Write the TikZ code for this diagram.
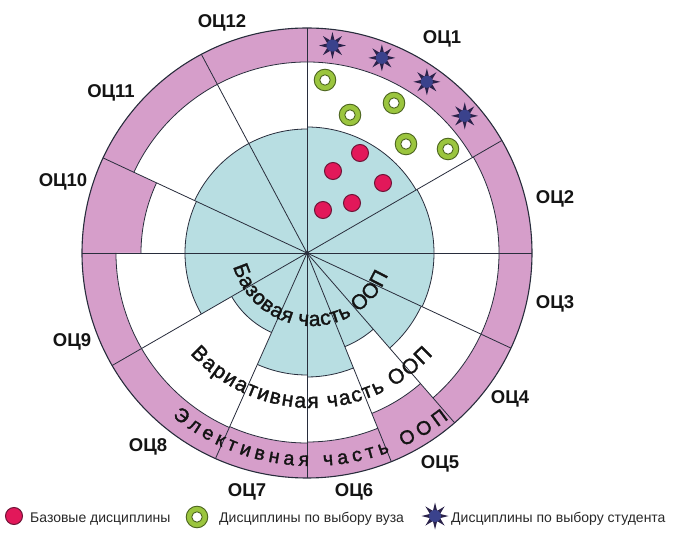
\documentclass[tikz,border=0pt]{standalone}
\usepackage{fontspec}
\setmainfont{Liberation Sans}
\newfontfamily\arcfont[FakeBold=1.6]{Liberation Sans}
\usetikzlibrary{decorations.text}
\definecolor{cPink}{RGB}{214,158,202}
\definecolor{cBlue}{RGB}{184,222,226}
\definecolor{cLine}{RGB}{40,45,60}
\definecolor{cRed}{RGB}{226,24,90}
\definecolor{cRedEdge}{RGB}{110,20,55}
\definecolor{cGreen}{RGB}{155,197,62}
\definecolor{cGreenEdge}{RGB}{75,100,30}
\definecolor{cStarBody}{RGB}{58,66,140}
\definecolor{cStarSpike}{RGB}{42,34,74}
\definecolor{cTxt}{RGB}{20,20,20}
\definecolor{cLeg}{RGB}{40,40,40}
\tikzset{
  sepline/.style={draw=cLine, line width=0.8bp},
  lbl/.style={font=\fontsize{18.5bp}{20bp}\selectfont\bfseries, text=cTxt, inner sep=0pt, anchor=base},
  legtext/.style={font=\fontsize{14bp}{16bp}\selectfont, text=cLeg, inner sep=0pt, anchor=base west},
  reddisc/.pic={\fill[cRed, draw=cRedEdge, line width=1bp] (0,0) circle[radius=8.5bp];},
  greenring/.pic={\fill[cGreen, draw=cGreenEdge, line width=0.9bp] (0,0) circle[radius=10.8bp];
                  \fill[white, draw=cGreenEdge, line width=0.9bp] (0,0) circle[radius=5.2bp];},
  navystar/.pic={\fill[cStarSpike] (90:13.5bp) \foreach \k in {0,...,7}{ -- (\k*45+90:13.5bp) -- (\k*45+112.5:5.5bp) } -- cycle;
                 \fill[cStarBody] (0,0) circle[radius=6bp];},
  arctext/.style={decorate, decoration={text along path, text align={fit to path}, text color=cTxt, text={#1}}}
}
\begin{document}
\begin{tikzpicture}[x=1bp,y=1bp]
\useasboundingbox (-307,-306) rectangle (374,253);
\coordinate (O) at (0,0);
\coordinate (T) at (5,9);
% pink base disc
\fill[cPink] (O) circle[radius=225bp];
% sectors: start/end angle, blue radius, pink inner radius
\foreach \a/\b/\rb/\rp in {30/90/126/191, 0/30/127/192, -25/0/127/192, -49/-25/126/192,
  -68/-49/101/173, -90/-68/124/189, -114/-90/122/190, -150/-114/87/191,
  -180/-150/122/191, 155/180/122/166, 118/155/124/191, 90/118/124/191}{
  \fill[white] (O) -- (\a:\rp bp) arc[start angle=\a, end angle=\b, radius=\rp bp] -- cycle;
  \fill[cBlue] (O) -- (\a:\rb bp) arc[start angle=\a, end angle=\b, radius=\rb bp] -- cycle;
  \draw[sepline] (\a:\rb bp) arc[start angle=\a, end angle=\b, radius=\rb bp];
  \draw[sepline] (\a:\rp bp) arc[start angle=\a, end angle=\b, radius=\rp bp];
}
% radial lines
\foreach \a in {90,30,0,-25,-49,-68,-90,-114,-150,180,155,118}{
  \draw[sepline] (O) -- (\a:225bp);
}
\draw[sepline, line width=1.1bp] (O) circle[radius=225bp];
\fill[cLine] (O) circle[radius=2.2bp];
% curved texts
\path[arctext={|\arcfont\fontsize{21bp}{21bp}\selectfont|Базовая часть ООП}]
  (T) ++(196:82) arc[start angle=196, end angle=338, radius=82bp];
\path[arctext={|\arcfont\fontsize{21bp}{21bp}\selectfont|Вариативная часть ООП}]
  (T) ++(222:164) arc[start angle=222, end angle=317.5, radius=164bp];
\path[arctext={|\arcfont\fontsize{19.5bp}{19.5bp}\selectfont|Элективная часть ООП}]
  (T) ++(231:222) arc[start angle=231, end angle=308, radius=222bp];
% basic disciplines
\foreach \p in {(53,100),(26,82),(76,70),(45,50),(16,43)}{ \pic at \p {reddisc}; }
% university choice
\foreach \p in {(18,173),(43,138),(87,150),(99,109),(141,104)}{ \pic at \p {greenring}; }
% student choice
\foreach \ang in {83,69,55,41}{ \pic at (\ang:209) {navystar}; }
% labels
\node[lbl] (l1)  at (135,209.4) {ОЦ1};
\node[lbl] (l2)  at (248,49.4) {ОЦ2};
\node[lbl] (l3)  at (248,-55.6) {ОЦ3};
\node[lbl] (l4)  at (203,-150.6) {ОЦ4};
\node[lbl] (l5)  at (133,-215.6) {ОЦ5};
\node[lbl] (l6)  at (47,-243.6) {ОЦ6};
\node[lbl] (l7)  at (-60,-243.6) {ОЦ7};
\node[lbl] (l8)  at (-159,-198.6) {ОЦ8};
\node[lbl] (l9)  at (-235,-94) {ОЦ9};
\node[lbl] (l10) at (-244,66.4) {ОЦ10};
\node[lbl] (l11) at (-196,155.4) {ОЦ11};
\node[lbl] (l12) at (-85,225.4) {ОЦ12};
% legend
\pic at (-293,-263) {reddisc};
\node[legtext] (lg1) at (-277,-269) {Базовые дисциплины};
\pic at (-110,-264) {greenring};
\node[legtext] (lg2) at (-88,-269) {Дисциплины по выбору вуза};
\pic at (128,-263) {navystar};
\node[legtext] (lg3) at (144,-269) {Дисциплины по выбору студента};
\end{tikzpicture}
\end{document}
